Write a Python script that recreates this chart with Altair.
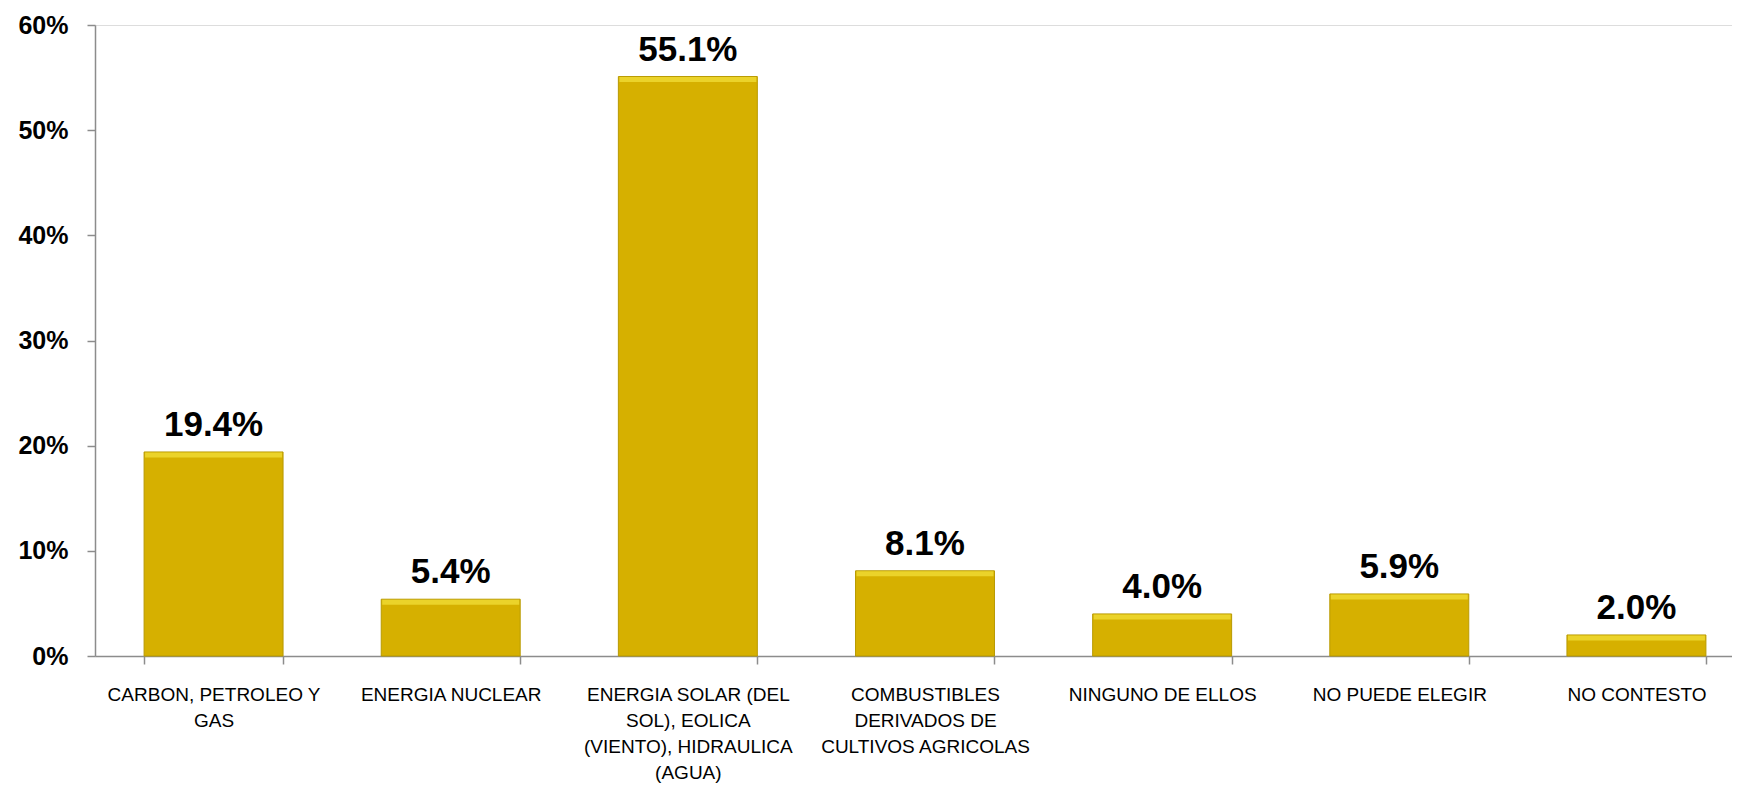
import json
import altair as alt
import pandas as pd

categories = [
    "CARBON, PETROLEO  Y GAS",
    "ENERGIA NUCLEAR",
    "ENERGIA SOLAR (DEL SOL), EOLICA (VIENTO), HIDRAULICA (AGUA)",
    "COMBUSTIBLES DERIVADOS DE CULTIVOS AGRICOLAS",
    "NINGUNO DE ELLOS",
    "NO PUEDE ELEGIR",
    "NO CONTESTO",
]
label_lines = [
    ["CARBON, PETROLEO  Y", "GAS"],
    ["ENERGIA NUCLEAR"],
    ["ENERGIA SOLAR (DEL", "SOL), EOLICA", "(VIENTO), HIDRAULICA", "(AGUA)"],
    ["COMBUSTIBLES", "DERIVADOS DE", "CULTIVOS AGRICOLAS"],
    ["NINGUNO DE ELLOS"],
    ["NO PUEDE ELEGIR"],
    ["NO CONTESTO"],
]
values = [19.4, 5.4, 55.1, 8.1, 4.0, 5.9, 2.0]
value_labels = ["19.4%", "5.4%", "55.1%", "8.1%", "4.0%", "5.9%", "2.0%"]
y_ticks = [0, 10, 20, 30, 40, 50, 60]

df = pd.DataFrame({"cat": categories, "value": values, "label": value_labels})

label_map = json.dumps(dict(zip(categories, label_lines)), ensure_ascii=False)
label_expr = label_map + "[datum.label]"

FONT = "Liberation Sans"
GRAY = "#8C8C8C"

x_enc = alt.X(
    "cat:N",
    sort=categories,
    scale=alt.Scale(range=[0, 1660], paddingInner=0.414, paddingOuter=0.207),
    axis=alt.Axis(
        title=None,
        labelExpr=label_expr,
        labelAngle=0,
        labelFont=FONT,
        labelFontSize=19,
        labelLineHeight=26,
        labelColor="#000000",
        labelPadding=21,
        labelBaseline="top",
        labelLimit=400,
        tickBand="extent",
        tickSize=8,
        tickColor=GRAY,
        tickWidth=1.5,
        domainColor=GRAY,
        domainWidth=1.5,
    ),
)
y_enc = alt.Y(
    "value:Q",
    scale=alt.Scale(domain=[0, 60], nice=False),
    axis=alt.Axis(
        title=None,
        values=y_ticks,
        labelExpr="datum.value + '%'",
        labelFont=FONT,
        labelFontSize=25,
        labelFontWeight="bold",
        labelColor="#000000",
        labelPadding=19,
        tickSize=8,
        tickColor=GRAY,
        tickWidth=1.5,
        domainColor=GRAY,
        domainWidth=1.5,
        grid=False,
    ),
)

base = alt.Chart(df)

bars = base.mark_bar(color="#D6B000", stroke="#B89A00", strokeWidth=1).encode(x=x_enc, y=y_enc)

highlight = base.mark_tick(
    orient="horizontal", thickness=5, size=137, color="#F4E23C", yOffset=3
).encode(x=alt.X("cat:N", sort=categories), y="value:Q")

text = base.mark_text(
    baseline="alphabetic", dy=-16, fontSize=35, fontWeight="bold", font=FONT, color="#000000"
).encode(x=alt.X("cat:N", sort=categories), y="value:Q", text="label:N")

chart = (
    alt.layer(bars, highlight, text)
    .properties(
        width=1637,
        height=631,
        autosize=alt.AutoSizeParams(type="none"),
        padding={"left": 87, "top": 17, "right": 0, "bottom": 130},
    )
    .configure_view(stroke=None)
    .configure(background="#FFFFFF")
)

chart.save("out.html", embed_options={"renderer": "svg", "actions": False})
